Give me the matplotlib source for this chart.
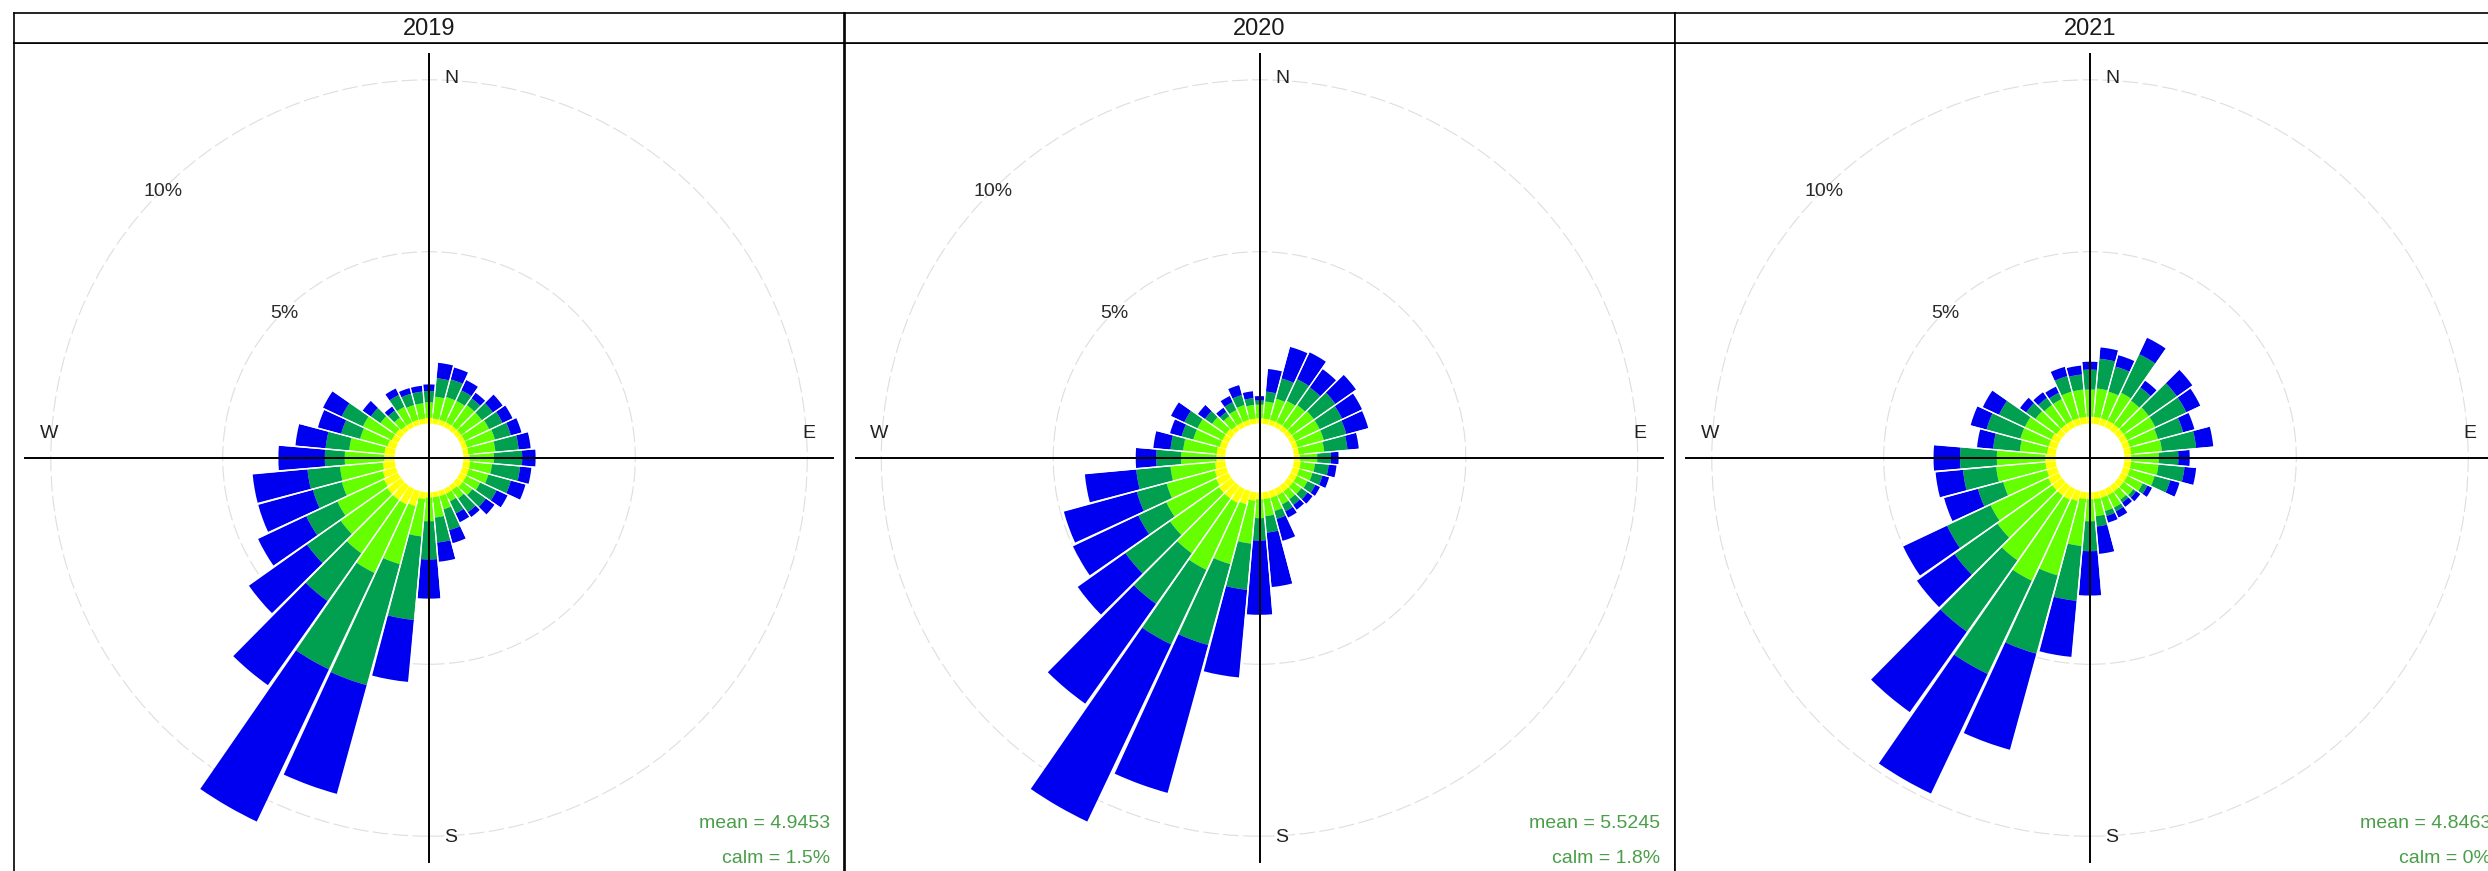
import numpy as np
import matplotlib

matplotlib.use("Agg")
import matplotlib.pyplot as plt  # noqa: E402
from matplotlib.patches import Wedge, Circle  # noqa: E402

plt.rcParams["font.family"] = ["Liberation Sans", "DejaVu Sans"]

YEARS = ["2019", "2020", "2021"]
DIRECTIONS = np.arange(0, 360, 10)
MEANS = ["4.9453", "5.5245", "4.8463"]
CALMS = ["1.5%", "1.8%", "0%"]
GRID_PCT = [5, 10]
BAND_COLOURS = ["#ffff00", "#66ff00", "#00a050", "#0000f0"]

# frequency (%) per 10-degree sector (N, clockwise), lowest to highest speed band
band1_2019 = [.17, .15, .15, .15, .15, .15, .15, .15, .15, .18, .20, .20, .20, .20, .15, .15, .15, .15,
              .15, .20, .45, .50, .50, .50, .45, .40, .35, .30, .30, .25, .20, .20, .15, .15, .15, .15]
band2_2019 = [.45, .64, .69, .69, .74, .74, .79, .84, .79, .71, .64, .59, .45, .35, .30, .25, .40, .59,
              .69, 1.09, 1.75, 2.20, 1.90, 1.65, 1.50, 1.23, 1.25, 1.15, 1.03, .83, .93, .54, .30, .50, .45, .45]
band3_2019 = [.33, .54, .53, .34, .24, .39, .43, .48, .68, .82, .82, .68, .53, .48, .49, .39, .63, .73,
              1.11, 2.44, 3.65, 3.10, 1.70, 1.20, 1.00, .87, .95, .58, .69, .57, .68, .34, .25, .38, .34, .34]
band4_2019 = [.19, .45, .36, .33, .20, .35, .32, .32, .35, .39, .33, .44, .35, .31, .17, .28, .39, .56,
              1.14, 1.81, 3.28, 4.90, 3.00, 2.07, 1.55, 1.65, 1.60, 1.35, .88, .70, .60, .29, .14, .21, .17, .17]

band1_2020 = [.15, .15, .15, .15, .15, .15, .15, .15, .15, .18, .20, .20, .20, .20, .20, .20, .20, .20,
              .20, .25, .40, .45, .45, .45, .40, .35, .30, .25, .25, .20, .20, .20, .15, .15, .15, .15]
band2_2020 = [.40, .50, .64, .69, .74, .79, .79, .79, .74, .50, .42, .40, .35, .30, .28, .30, .40, .50,
              .55, 1.25, 1.80, 2.15, 1.95, 1.74, 1.60, 1.45, 1.30, 1.03, .98, .80, .80, .50, .35, .40, .45, .40]
band3_2020 = [.12, .29, .61, .70, .63, .77, .72, .68, .68, .40, .40, .30, .25, .22, .20, .22, .24, .48,
              .65, 1.35, 2.44, 2.40, 1.80, 1.59, .90, .90, 1.00, .72, .37, .35, .42, .25, .15, .25, .30, .20]
band4_2020 = [.13, .66, .95, .86, .65, .73, .64, .66, .33, .22, .23, .20, .15, .18, .17, .20, .66, 1.59,
              2.16, 2.56, 4.46, 5.70, 3.56, 1.70, 2.10, 2.20, 1.50, .60, .50, .35, .43, .25, .15, .20, .30, .20]

band1_2021 = [.20, .20, .20, .20, .20, .20, .20, .20, .20, .20, .20, .20, .20, .20, .20, .20, .20, .20,
              .20, .20, .30, .35, .35, .35, .35, .30, .30, .30, .25, .25, .25, .20, .20, .20, .20, .20]
band2_2021 = [.79, .83, .80, .90, .85, .90, .90, .85, .90, .80, .80, .75, .50, .35, .30, .40, .40, .50,
              .64, 1.37, 2.24, 2.60, 2.30, 1.95, 1.85, 1.32, 1.44, 1.41, .80, .85, .85, .75, .70, .70, .80, .80]
band3_2021 = [.58, .87, .76, 1.24, .47, 1.00, 1.00, .76, 1.00, .57, .76, .47, .15, .10, .10, .12, .15, .30,
              .87, 1.60, 2.36, 3.00, 2.54, 1.53, 1.40, .76, .97, 1.07, .78, 1.02, .83, .33, .25, .20, .47, .44]
band4_2021 = [.23, .33, .34, .53, .24, .55, .45, .34, .50, .33, .34, .28, .15, .15, .15, .20, .20, .80,
              1.29, 1.64, 2.90, 3.85, 2.87, 1.34, 1.41, 1.02, .80, .77, .47, .48, .52, .22, .20, .20, .28, .26]

BANDS = {
    "2019": [band1_2019, band2_2019, band3_2019, band4_2019],
    "2020": [band1_2020, band2_2020, band3_2020, band4_2020],
    "2021": [band1_2021, band2_2021, band3_2021, band4_2021],
}

W, H = 2488, 871
HOLE = 1.0          # radius of the empty centre, in % units
LIM = 12.07         # half-width of each panel, in % units
AXIS_LEN = 11.75
LABEL_R = 11.05
SECTOR = 10.0
BAR_W = 9.3

fig = plt.figure(figsize=(W / 100, H / 100), dpi=100)


def px_rect(x0, y0, w, h):
    # pixel box (top-left origin) -> figure fraction rect
    return [x0 / W, (H - y0 - h) / H, w / W, h / H]


def draw_rose(ax, year, mean, calm):
    bands = np.array(BANDS[year])
    cum = np.cumsum(bands, axis=0)

    for pct in GRID_PCT:
        ax.add_patch(Circle((0, 0), HOLE + pct, fill=False, ec="#dedede",
                            lw=0.8, ls=(0, (14, 4)), zorder=1))

    for j, d in enumerate(DIRECTIONS):
        mid = 90 - d
        inner = HOLE
        for k in range(4):
            outer = HOLE + cum[k, j]
            ax.add_patch(Wedge((0, 0), outer, mid - BAR_W / 2, mid + BAR_W / 2,
                               width=outer - inner, fc=BAND_COLOURS[k],
                               ec="none", zorder=2))
            inner = outer

    # thin white separators between neighbouring sectors
    tot = cum[-1]
    for j, d in enumerate(DIRECTIONS):
        edge = np.deg2rad(90 - (d + SECTOR / 2))
        r_end = HOLE + max(tot[j], tot[(j + 1) % len(tot)]) + 0.1
        r0 = HOLE + 0.3
        ax.plot([r0 * np.cos(edge), r_end * np.cos(edge)],
                [r0 * np.sin(edge), r_end * np.sin(edge)],
                color="white", lw=1.0, solid_capstyle="butt", zorder=3)

    ax.plot([-AXIS_LEN, AXIS_LEN], [0, 0], color="black", lw=1.4, zorder=4)
    ax.plot([0, 0], [-AXIS_LEN, AXIS_LEN], color="black", lw=1.4, zorder=4)

    lab = dict(fontsize=14, color="#222222", zorder=5)
    ax.text(0.45, LABEL_R, "N", ha="left", va="center", **lab)
    ax.text(0.45, -LABEL_R, "S", ha="left", va="center", **lab)
    ax.text(LABEL_R, 0.72, "E", ha="center", va="center", **lab)
    ax.text(-LABEL_R, 0.72, "W", ha="center", va="center", **lab)

    ang = np.deg2rad(135)
    for pct in GRID_PCT:
        r = HOLE + pct - 0.05
        ax.text(r * np.cos(ang), r * np.sin(ang), f"{pct}%", ha="center",
                va="center", fontsize=14, color="#2a2a2a", zorder=5)

    ax.text(0.983, 0.060, f"mean = {mean}", transform=ax.transAxes,
            ha="right", va="center", fontsize=14, color="#4a9e4a")
    ax.text(0.983, 0.018, f"calm = {calm}", transform=ax.transAxes,
            ha="right", va="center", fontsize=14, color="#4a9e4a")

    ax.set_xlim(-LIM, LIM)
    ax.set_ylim(-LIM, LIM)
    ax.set_xticks([])
    ax.set_yticks([])
    for s in ax.spines.values():
        s.set_linewidth(1.2)
        s.set_color("black")


for i, year in enumerate(YEARS):
    left = 14 + i * 830.5
    ax = fig.add_axes(px_rect(left, 43, 830, 830))
    draw_rose(ax, year, MEANS[i], CALMS[i])

    strip = fig.add_axes(px_rect(left, 13, 830, 30))
    strip.set_xticks([])
    strip.set_yticks([])
    for s in strip.spines.values():
        s.set_linewidth(1.2)
        s.set_color("black")
    strip.text(0.5, 0.47, year, ha="center", va="center", fontsize=17,
               color="#1a1a1a", transform=strip.transAxes)

fig.savefig("out.png", dpi=100)
